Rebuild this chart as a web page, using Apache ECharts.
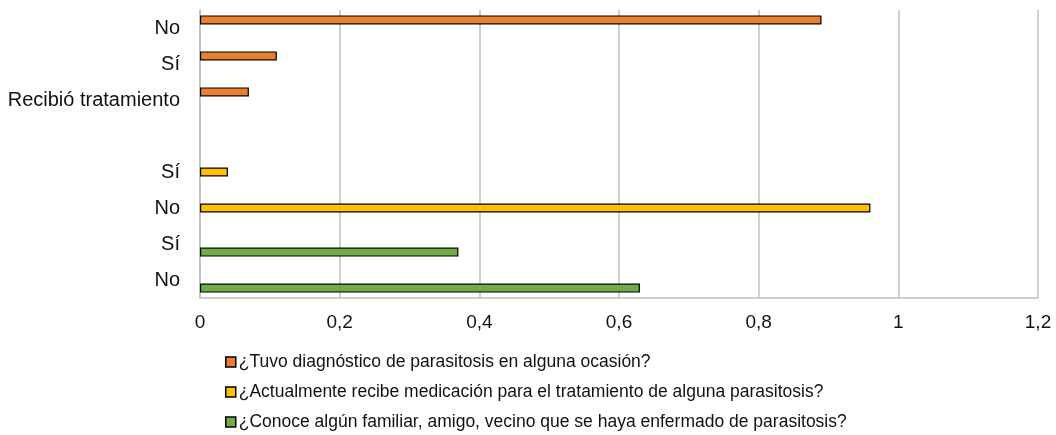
<!DOCTYPE html>
<html>
<head>
<meta charset="utf-8">
<script src="https://cdn.jsdelivr.net/npm/echarts@6/dist/echarts.min.js"></script>
<style>
html,body{margin:0;padding:0;background:#fff;}
#chart{width:1056px;height:435px;}
</style>
</head>
<body>
<div id="chart"></div>
<script>
// Categories, top to bottom
const categories = ['No', 'Sí', 'Recibió tratamiento', '', 'Sí', 'No', 'Sí', 'No'];
const seriesNames = [
  '¿Tuvo diagnóstico de parasitosis en alguna ocasión?',
  '¿Actualmente recibe medicación para el tratamiento de alguna parasitosis?',
  '¿Conoce algún familiar, amigo, vecino que se haya enfermado de parasitosis?'
];
const diagnostico = [0.89, 0.11, 0.07, '-', '-', '-', '-', '-'];
const medicacion = ['-', '-', '-', '-', 0.04, 0.96, '-', '-'];
const conoce = ['-', '-', '-', '-', '-', '-', 0.37, 0.63];
const xTicks = { min: 0, max: 1.2, interval: 0.2 };
const colors = ['#ED7D31', '#FFC000', '#70AD47'];

const FONT = '"Liberation Sans", Arial, sans-serif';
const chart = echarts.init(document.getElementById('chart'), null, { renderer: 'canvas' });

function mkSeries(name, data, color) {
  return {
    name: name,
    type: 'bar',
    data: data,
    barWidth: 9,
    barGap: '-10%',
    itemStyle: { color: color, borderColor: '#000', borderWidth: 1.2 },
    emphasis: { disabled: true },
    animation: false
  };
}

function mkLegend(i) {
  return {
    orient: 'vertical',
    left: 225,
    top: 353 + i * 30,
    padding: 0,
    itemWidth: 10,
    itemHeight: 10,
    icon: 'rect',
    selectedMode: false,
    itemStyle: { borderColor: '#000', borderWidth: 1.5 },
    textStyle: { fontFamily: FONT, fontSize: 17.5, color: '#111', padding: [0, 0, 0, -2] },
    data: [seriesNames[i]]
  };
}

chart.setOption({
  animation: false,
  grid: { left: 200, right: 18, top: 10, bottom: 137, containLabel: false },
  xAxis: {
    type: 'value',
    min: xTicks.min, max: xTicks.max, interval: xTicks.interval,
    axisLine: { show: true, lineStyle: { color: '#BFBFBF', width: 1.5 } },
    axisTick: { show: false },
    splitLine: { show: true, lineStyle: { color: '#BFBFBF', width: 1.5 } },
    axisLabel: {
      margin: 15,
      fontFamily: FONT, fontSize: 19, color: '#111',
      formatter: v => String(Math.round(v * 10) / 10).replace('.', ',')
    }
  },
  yAxis: {
    type: 'category',
    inverse: true,
    data: categories,
    axisLine: { show: true, lineStyle: { color: '#BFBFBF', width: 1.5 } },
    axisTick: { show: false },
    axisLabel: { margin: 20, fontFamily: FONT, fontSize: 20, color: '#111' }
  },
  legend: [mkLegend(0), mkLegend(1), mkLegend(2)],
  series: [
    mkSeries(seriesNames[0], diagnostico, colors[0]),
    mkSeries(seriesNames[1], medicacion, colors[1]),
    mkSeries(seriesNames[2], conoce, colors[2])
  ]
});
</script>
</body>
</html>
